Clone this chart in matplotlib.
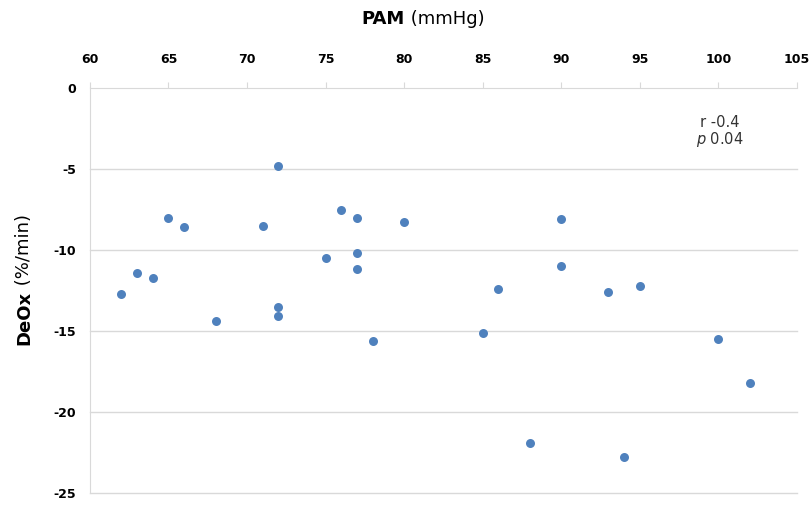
import matplotlib
matplotlib.use("Agg")
import matplotlib.pyplot as plt

# PAM (mmHg) vs DeOx (%/min)
pam = [62, 63, 64, 65, 66, 68, 71, 72, 72, 72, 75, 76, 77, 77, 77, 78,
       80, 85, 86, 88, 90, 90, 93, 94, 95, 100, 102]
deox = [-12.7, -11.4, -11.7, -8.0, -8.6, -14.4, -8.5, -4.8, -13.5, -14.1,
        -10.5, -7.5, -8.0, -10.2, -11.2, -15.6, -8.3, -15.1, -12.4, -21.9,
        -8.1, -11.0, -12.6, -22.8, -12.2, -15.5, -18.2]

x_ticks = [60, 65, 70, 75, 80, 85, 90, 95, 100, 105]
y_ticks = [0, -5, -10, -15, -20, -25]

plt.rcParams['font.family'] = ['DejaVu Sans']
plt.rcParams['axes.unicode_minus'] = False

fig = plt.figure(figsize=(8.1, 5.07), dpi=100)
ax = fig.add_axes([0.111, 0.0276, 0.873, 0.7988])

ax.scatter(pam, deox, s=42, color='#4F81BD', zorder=3, linewidths=0)

ax.set_xlim(60, 105)
ax.set_ylim(-25, 0)
ax.set_xticks(x_ticks)
ax.set_yticks(y_ticks)
ax.xaxis.tick_top()

grid_col = '#d9d9d9'
for v in y_ticks[1:]:
    ax.axhline(v, color=grid_col, lw=1, zorder=1, clip_on=False)

for side in ['right', 'bottom']:
    ax.spines[side].set_visible(False)
ax.spines['top'].set_color(grid_col)
ax.spines['left'].set_color(grid_col)

ax.tick_params(axis='x', direction='out', length=4, color=grid_col, pad=12,
               labelsize=9)
ax.tick_params(axis='y', length=0, pad=10, labelsize=9)
for lbl in ax.get_xticklabels() + ax.get_yticklabels():
    lbl.set_fontweight('bold')

# axis titles, bold name followed by regular unit
t = fig.text(0.5, 0.952, 'PAM', fontsize=13, fontweight='bold',
             ha='right', va='baseline')
ax.annotate(' (mmHg)', xycoords=t, xy=(1, 0), fontsize=13,
            ha='left', va='bottom')

ty = fig.text(0.03, 0.32, 'DeOx', fontsize=13, fontweight='bold',
              rotation=90, ha='center', va='bottom')
ax.annotate(' (%/min)', xycoords=ty, xy=(0.5, 1), fontsize=13,
            rotation=90, ha='center', va='bottom')

ax.text(100.1, -2.15, 'r -0.4', fontsize=10.5, ha='center', va='center',
        color='#333333')
ax.text(100.1, -3.2, '$p$ 0.04', fontsize=10.5, ha='center', va='center',
        color='#333333')

fig.savefig('out.png', dpi=100)
